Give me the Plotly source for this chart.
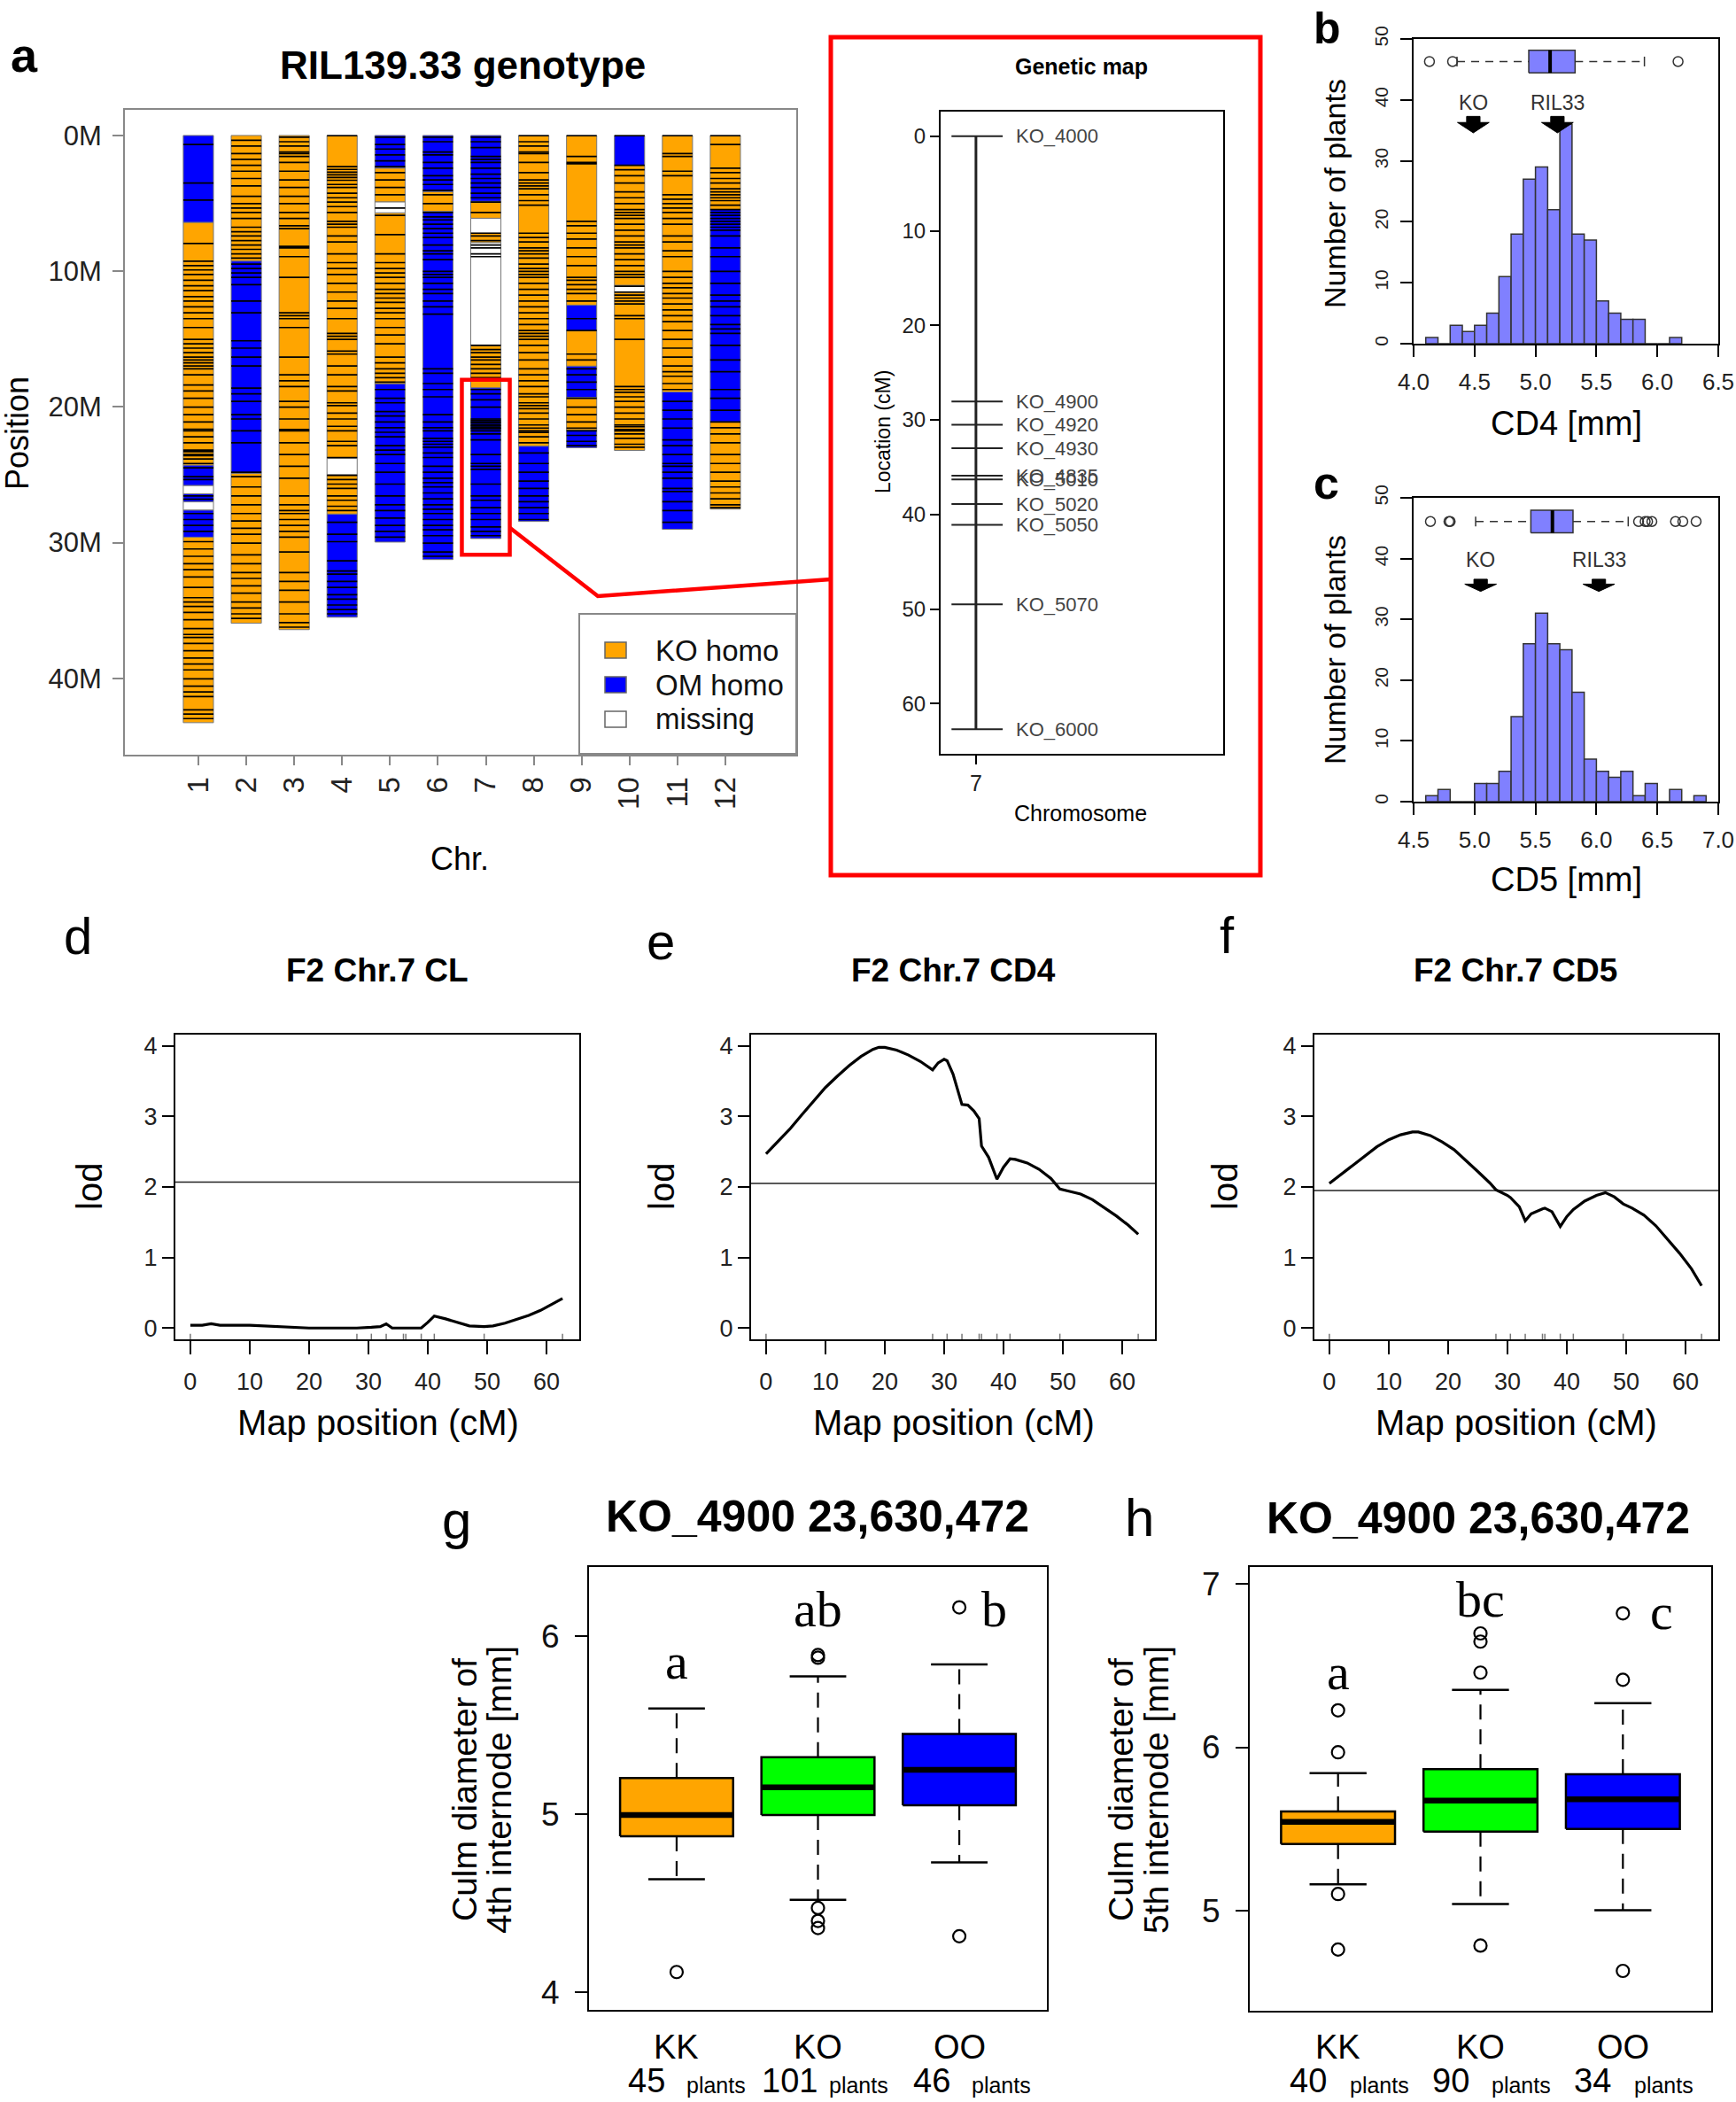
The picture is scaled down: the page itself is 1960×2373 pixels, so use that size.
import plotly.graph_objects as go

W, H = 1960, 2373
SANS = "Liberation Sans"
SERIF = "Liberation Serif"

# ============================ DATA ============================
# ---- Panel a : RIL139.33 genotype (positions in Mb) ----
chrom_numbers = [1, 2, 3, 4, 5, 6, 7, 8, 9, 10, 11, 12]
chrom_lengths = [43.27, 35.94, 36.41, 35.50, 29.96, 31.25, 29.70, 28.44, 23.01, 23.21, 29.02, 27.53]
position_ticks = [0, 10, 20, 30, 40]
position_labels = ["0M", "10M", "20M", "30M", "40M"]

chr1_breaks = [0, 6.4, 24.3, 25.8, 26.4, 27.0, 27.6, 29.6, 43.27]
chr1_geno = ["OM", "KO", "OM", "NA", "OM", "NA", "OM", "KO"]
chr2_breaks = [0, 9.26, 24.9, 35.94]
chr2_geno = ["KO", "OM", "KO"]
chr3_breaks = [0, 36.41]
chr3_geno = ["KO"]
chr4_breaks = [0, 23.8, 25.0, 27.9, 35.5]
chr4_geno = ["KO", "NA", "KO", "OM"]
chr5_breaks = [0, 2.4, 4.9, 5.7, 18.3, 29.96]
chr5_geno = ["OM", "KO", "NA", "KO", "OM"]
chr6_breaks = [0, 4.15, 5.6, 31.25]
chr6_geno = ["OM", "KO", "OM"]
chr7_breaks = [0, 4.85, 6.1, 7.2, 7.9, 15.5, 18.6, 29.7]
chr7_geno = ["OM", "KO", "NA", "KO", "NA", "KO", "OM"]
chr8_breaks = [0, 22.9, 28.44]
chr8_geno = ["KO", "OM"]
chr9_breaks = [0, 12.5, 14.4, 17.0, 19.3, 21.7, 23.01]
chr9_geno = ["KO", "OM", "KO", "OM", "KO", "OM"]
chr10_breaks = [0, 2.2, 11.05, 11.55, 23.21]
chr10_geno = ["OM", "KO", "NA", "KO"]
chr11_breaks = [0, 18.9, 29.02]
chr11_geno = ["KO", "OM"]
chr12_breaks = [0, 5.45, 21.1, 27.53]
chr12_geno = ["KO", "OM", "KO"]

chr1_markers = [0.67, 3.5, 4.76, 7.96, 9.26, 9.59, 9.91, 10.24, 10.67, 11.07, 11.43, 11.87, 12.2, 12.63, 13.07,
                13.5, 14.15, 15.02, 15.35, 15.67, 16.0, 16.33, 16.54, 16.76, 16.98, 17.2, 17.63, 18.39, 18.83,
                19.37, 20.02, 20.57, 21.11, 21.65, 21.77, 22.21, 22.64, 23.19, 23.3, 23.51, 23.6, 23.84, 24.17,
                24.49, 25.14, 25.36, 26.56, 26.8, 27.86, 28.3, 28.73, 29.17, 29.93, 30.47, 31.01, 31.56, 31.99,
                32.54, 33.3, 34.06, 34.38, 34.71, 35.14, 35.69, 36.34, 36.77, 36.99, 37.43, 37.97, 38.51, 38.95,
                39.38, 40.04, 40.58, 41.01, 41.34, 42.32, 42.64, 42.97]
chr2_markers = [0.35, 0.78, 1.33, 1.76, 2.2, 2.63, 3.17, 3.72, 4.48, 5.02, 5.35, 5.67, 6.11, 6.76, 7.09, 7.41,
                7.74, 8.07, 8.39, 8.72, 9.04, 9.48, 9.8, 10.13, 10.46, 11.0, 12.2, 13.07, 15.13, 15.67, 16.33,
                16.98, 18.61, 19.04, 19.59, 20.57, 20.89, 21.77, 22.64, 24.82, 25.14, 25.9, 26.56, 27.21, 27.86,
                28.4, 28.95, 29.38, 30.04, 30.9, 31.56, 32.21, 32.64, 33.19, 33.73, 34.38, 34.82, 35.25, 35.58]
chr3_markers = [0.13, 0.46, 0.78, 1.22, 1.33, 1.54, 1.98, 2.63, 3.28, 3.83, 4.48, 5.02, 5.67, 6.11, 6.65, 6.87,
                8.17, 8.28, 8.93, 10.46, 13.07, 13.28, 13.5, 14.15, 16.33, 17.63, 18.07, 18.5, 19.59, 20.02,
                20.89, 21.67, 21.77, 22.64, 23.51, 24.38, 25.25, 26.56, 27.21, 27.64, 27.86, 28.3, 28.73, 29.17,
                29.6, 30.69, 32.21, 32.86, 33.51, 34.38, 35.25, 35.9, 36.23]
chr4_markers = [0.02, 2.3, 2.5, 2.7, 2.9, 3.1, 3.3, 3.61, 3.83, 4.26, 4.59, 4.91, 5.24, 5.67, 6.33, 6.54, 6.76,
                7.41, 7.85, 8.72, 9.37, 9.8, 10.24, 10.89, 11.54, 12.2, 12.74, 13.5, 14.59, 14.8, 15.02, 15.89,
                16.11, 16.98, 17.63, 18.5, 18.83, 19.7, 19.91, 20.46, 20.89, 21.43, 21.77, 22.54, 22.86, 23.73,
                25.04, 25.36, 25.69, 26.01, 26.56, 26.88, 27.32, 27.64, 28.51, 29.38, 29.93, 31.34, 32.1, 32.32,
                32.86, 33.3, 33.84, 34.17, 34.6, 34.93, 35.25]
chr5_markers = [0.13, 0.67, 1.0, 1.43, 1.87, 2.3, 2.74, 3.28, 3.83, 4.37, 5.35, 5.89, 7.3, 8.72, 9.37, 9.8,
                10.13, 10.46, 10.89, 11.33, 11.65, 11.98, 12.3, 12.74, 13.07, 13.5, 14.15, 14.7, 15.35, 16.33,
                16.76, 17.2, 17.52, 17.85, 18.17, 18.72, 19.37, 19.7, 20.35, 20.67, 21.11, 21.54, 21.87, 22.21,
                22.86, 23.19, 23.51, 24.17, 24.82, 25.69, 26.56, 27.21, 27.64, 28.19, 28.73, 29.17, 29.6]
chr6_markers = [0.13, 0.46, 1.22, 1.43, 1.98, 2.41, 2.96, 3.28, 3.61, 4.04, 4.37, 5.02, 5.67, 6.0, 6.22, 6.54,
                6.87, 7.2, 7.52, 8.07, 8.5, 8.72, 9.15, 10.02, 10.24, 10.46, 10.89, 11.33, 11.65, 12.2, 12.63,
                13.17, 17.2, 17.52, 18.28, 18.72, 19.26, 20.57, 21.11, 21.54, 21.77, 22.32, 22.54, 22.75, 22.97,
                23.4, 23.73, 24.38, 24.82, 25.25, 25.58, 25.9, 26.34, 26.77, 27.21, 27.54, 27.86, 28.3, 28.73,
                29.06, 29.49, 30.04, 30.69, 31.01]
chr7_markers = [0.13, 0.46, 0.89, 1.54, 1.76, 1.98, 2.41, 2.85, 3.17, 3.5, 3.83, 4.26, 4.59, 4.91, 5.67, 7.2,
                7.41, 7.74, 8.07, 8.28, 8.72, 8.93, 15.46, 15.78, 16.0, 16.33, 16.54, 16.87, 17.2, 17.52, 17.85,
                18.72, 19.04, 19.48, 20.02, 20.89, 21.0, 21.11, 21.2, 21.33, 21.4, 21.54, 21.6, 21.76, 21.99,
                22.43, 23.51, 24.17, 24.38, 24.6, 25.69, 26.56, 26.88, 27.43, 27.86, 28.3, 28.84, 29.17, 29.49]
chr8_markers = [0.02, 0.46, 0.78, 1.22, 1.33, 1.98, 2.74, 3.28, 3.5, 3.72, 3.93, 4.37, 4.8, 5.13, 7.2, 7.52,
                7.85, 8.28, 8.5, 8.72, 9.04, 9.48, 9.8, 10.02, 10.24, 10.46, 10.89, 11.33, 11.76, 12.2, 12.63,
                13.07, 13.5, 13.93, 14.37, 14.59, 14.8, 15.02, 15.46, 16.0, 16.54, 17.2, 17.63, 18.07, 18.5,
                19.04, 19.26, 19.7, 19.91, 20.13, 20.46, 20.89, 21.33, 21.56, 21.76, 21.88, 22.21, 22.64, 23.4,
                24.17, 24.82, 25.47, 26.01, 26.56, 26.99, 27.43, 27.86, 28.3]
chr9_markers = [0.02, 1.54, 1.98, 2.09, 6.33, 6.65, 7.2, 7.63, 8.28, 8.93, 9.59, 10.46, 10.67, 11.0, 11.33,
                11.65, 12.2, 13.5, 14.37, 16.11, 16.54, 17.2, 17.63, 18.17, 18.72, 19.37, 20.02, 20.57, 21.11,
                21.56, 21.76, 22.1, 22.54, 22.86]
chr10_markers = [0.02, 2.2, 2.52, 2.96, 3.5, 4.15, 4.59, 5.02, 5.46, 5.67, 5.89, 6.11, 6.54, 6.98, 7.41, 7.85,
                 8.07, 8.28, 8.72, 9.15, 9.59, 10.02, 10.24, 10.46, 11.11, 11.54, 11.76, 11.98, 12.2, 12.41,
                 13.28, 13.5, 15.02, 18.5, 18.72, 18.93, 19.26, 19.59, 20.02, 20.46, 20.89, 21.33, 21.45, 21.67,
                 21.76, 21.99, 22.32, 22.75, 22.97]
chr11_markers = [0.02, 1.33, 1.54, 2.63, 2.96, 4.37, 4.7, 5.02, 5.35, 5.67, 6.11, 6.54, 7.41, 7.85, 8.5, 8.93,
                 10.02, 10.46, 10.89, 11.22, 11.65, 11.98, 12.41, 12.85, 13.28, 13.72, 14.37, 15.02, 15.67,
                 16.33, 16.98, 17.41, 17.74, 18.28, 18.72, 19.59, 20.24, 20.89, 21.56, 22.43, 22.86, 23.51,
                 24.17, 24.38, 24.82, 25.25, 26.01, 26.23, 26.99, 27.64, 28.51]
chr12_markers = [0.02, 0.67, 2.41, 2.74, 3.17, 3.5, 3.93, 4.15, 4.37, 4.59, 4.8, 5.13, 5.46, 5.67, 5.89, 6.11,
                 6.33, 6.54, 6.76, 6.98, 7.41, 8.28, 8.93, 10.02, 10.89, 11.76, 12.2, 12.63, 13.28, 13.93, 14.26,
                 14.59, 15.46, 16.54, 17.41, 18.72, 19.37, 20.24, 21.11, 21.54, 21.99, 22.64, 23.51, 24.17,
                 24.82, 25.47, 25.9, 26.34, 26.77, 27.21, 27.43]

highlight_chr = 7
highlight_from_mb = 18.0
highlight_to_mb = 30.9

# ---- Genetic map of chr 7 (cM) ----
gm_markers = ["KO_4000", "KO_4900", "KO_4920", "KO_4930", "KO_4835", "KO_5010", "KO_5020", "KO_5050",
              "KO_5070", "KO_6000"]
gm_pos = [0, 28.06, 30.5, 33.0, 35.9, 36.3, 38.9, 41.1, 49.5, 62.7]

# ---- Panel b : CD4 histogram ----
cd4_bin_left = [4.1, 4.2, 4.3, 4.4, 4.5, 4.6, 4.7, 4.8, 4.9, 5.0, 5.1, 5.2, 5.3, 5.4, 5.5, 5.6, 5.7, 5.8, 5.9,
                6.0, 6.1]
cd4_counts = [1, 0, 3, 2, 3, 5, 11, 18, 27, 29, 22, 36, 18, 17, 7, 5, 4, 4, 0, 0, 1]
cd4_box = [4.356, 4.945, 5.12, 5.325, 5.894]      # lower whisker, q1, median, q3, upper whisker
cd4_outliers = [4.13, 4.32, 6.17]
cd4_parents = ["KO", "RIL33"]
cd4_parent_values = [4.49, 5.18]

# ---- Panel c : CD5 histogram ----
cd5_bin_left = [4.6, 4.7, 4.8, 4.9, 5.0, 5.1, 5.2, 5.3, 5.4, 5.5, 5.6, 5.7, 5.8, 5.9, 6.0, 6.1, 6.2, 6.3, 6.4,
                6.5, 6.6, 6.7, 6.8]
cd5_counts = [1, 2, 0, 0, 3, 3, 5, 14, 26, 31, 26, 25, 18, 7, 5, 4, 5, 1, 3, 0, 2, 0, 1]
cd5_box = [5.009, 5.462, 5.639, 5.808, 6.261]
cd5_outliers = [4.638, 4.79, 4.80, 6.346, 6.40, 6.42, 6.455, 6.649, 6.709, 6.818]
cd5_parents = ["KO", "RIL33"]
cd5_parent_values = [5.05, 6.02]

# ---- Panels d, e, f : LOD profiles ----
cl_pos = [0, 2, 3.5, 5, 10, 15, 20, 25, 28.06, 30.5, 32, 33.0, 34, 35.9, 38.9, 40, 41.1, 43, 45, 47, 49.5, 51,
          53, 55, 57, 59, 61, 62.7]
cl_lod = [0.04, 0.04, 0.06, 0.04, 0.04, 0.02, 0.0, 0.0, 0.0, 0.01, 0.02, 0.06, 0.0, 0.0, 0.0, 0.08, 0.17, 0.13,
          0.08, 0.03, 0.02, 0.03, 0.07, 0.12, 0.18, 0.25, 0.34, 0.42]
cl_threshold = 2.07

cd4_pos = [0, 2, 4, 6, 8, 10, 12, 14, 16, 18, 19, 20, 22, 24, 26, 28.06, 29, 30, 30.5, 31.5, 33.0, 34.0, 35,
           35.9, 36.3, 37.5, 38.9, 40, 41.1, 42, 44, 46, 48, 49.5, 51, 53, 55, 57, 59, 61, 62.7]
cd4_lod = [2.47, 2.64, 2.82, 3.02, 3.22, 3.41, 3.57, 3.72, 3.85, 3.95, 3.98, 3.98, 3.94, 3.87, 3.78, 3.66, 3.76,
           3.81, 3.79, 3.6, 3.17, 3.16, 3.08, 2.97, 2.58, 2.42, 2.11, 2.28, 2.40, 2.39, 2.34, 2.25, 2.12, 1.97,
           1.94, 1.90, 1.82, 1.71, 1.59, 1.46, 1.33]
cd4_threshold = 2.05

cd5_pos = [0, 2, 4, 6, 8, 10, 12, 14, 15, 17, 19, 21, 23, 25, 27, 28.06, 30, 30.5, 32, 33.0, 34, 35, 35.9, 36.3,
           37.5, 38.9, 40, 41.1, 43, 45, 46.5, 48, 49.5, 51, 53, 55, 57, 59, 61, 62.7]
cd5_lod = [2.05, 2.18, 2.31, 2.45, 2.57, 2.67, 2.74, 2.78, 2.78, 2.73, 2.64, 2.53, 2.38, 2.22, 2.06, 1.96, 1.88,
           1.85, 1.72, 1.52, 1.62, 1.66, 1.69, 1.70, 1.65, 1.44, 1.58, 1.68, 1.80, 1.88, 1.92, 1.86, 1.76, 1.70,
           1.60, 1.45, 1.26, 1.06, 0.84, 0.60]
cd5_threshold = 1.95

# ---- Panels g, h : boxplots by genotype at KO_4900 ----
genotype_groups = ["KK", "KO", "OO"]
group_colors = ["#FFA500", "#00FF00", "#0000FF"]

g_n = [45, 101, 46]
g_low = [4.634, 4.519, 4.729]
g_q1 = [4.876, 4.995, 5.05]
g_med = [4.995, 5.151, 5.249]
g_q3 = [5.203, 5.321, 5.451]
g_high = [5.594, 5.775, 5.842]
g_out_kk = [4.113]
g_out_ko = [4.473, 4.40, 4.36, 5.88, 5.895]
g_out_oo = [6.163, 4.314]
g_letters = ["a", "ab", "b"]
g_letter_y = [5.859, 6.152, 6.152]

h_n = [40, 90, 34]
h_low = [5.16, 5.04, 5.002]
h_q1 = [5.407, 5.483, 5.5]
h_med = [5.543, 5.673, 5.681]
h_q3 = [5.607, 5.866, 5.834]
h_high = [5.841, 6.351, 6.27]
h_out_kk = [6.226, 5.969, 5.101, 4.761]
h_out_ko = [6.457, 6.647, 6.697, 4.785]
h_out_oo = [6.413, 6.82, 4.63]
h_letters = ["a", "bc", "c"]
h_letter_y = [6.462, 6.906, 6.832]

# ============================ FIGURE ============================
fig = go.Figure()
annotations = []
shapes = []


def px(x):
    return x / W


def py(y):
    return 1 - y / H


def dom(x0, x1, y0, y1):
    return [px(x0), px(x1)], [py(y1), py(y0)]


def ax_style(**kw):
    d = dict(showgrid=False, zeroline=False, showline=True, mirror=True, linecolor="black", linewidth=2,
             ticks="outside", tickcolor="black", tickwidth=2, ticklen=12, automargin=False,
             tickfont=dict(family=SANS, size=26, color="black"))
    d.update(kw)
    return d


def text(t, x, y, size, bold=False, angle=0, family=SANS, color="black", xanchor="center",
         yanchor="middle", xref="paper", yref="paper"):
    if xref == "paper":
        x = px(x)
    if yref == "paper":
        y = py(y)
    if bold:
        t = "<b>" + t + "</b>"
    annotations.append(dict(text=t, x=x, y=y, xref=xref, yref=yref, showarrow=False, textangle=angle,
                            font=dict(family=family, size=size, color=color), xanchor=xanchor,
                            yanchor=yanchor))


# ---------- Panel a ----------
A_X0, A_X1, A_Y0, A_Y1 = 141, 899, 124, 852
A_XR = [-0.534, 13.48]
A_YR = [45.63, -1.89]
geno_colors = {"KO": "#FFA500", "OM": "#0000FF", "NA": "#FFFFFF"}
all_breaks = [chr1_breaks, chr2_breaks, chr3_breaks, chr4_breaks, chr5_breaks, chr6_breaks, chr7_breaks,
              chr8_breaks, chr9_breaks, chr10_breaks, chr11_breaks, chr12_breaks]
all_geno = [chr1_geno, chr2_geno, chr3_geno, chr4_geno, chr5_geno, chr6_geno, chr7_geno, chr8_geno,
            chr9_geno, chr10_geno, chr11_geno, chr12_geno]
all_markers = [chr1_markers, chr2_markers, chr3_markers, chr4_markers, chr5_markers, chr6_markers,
               chr7_markers, chr8_markers, chr9_markers, chr10_markers, chr11_markers, chr12_markers]
BAR_W = 0.63
for g in ["KO", "OM", "NA"]:
    xs, bases, lens = [], [], []
    for c, br, gg in zip(chrom_numbers, all_breaks, all_geno):
        for i, code in enumerate(gg):
            if code == g:
                xs.append(c)
                bases.append(br[i])
                lens.append(br[i + 1] - br[i])
    fig.add_trace(go.Bar(x=xs, y=lens, base=bases, width=BAR_W, xaxis="x", yaxis="y",
                         marker=dict(color=geno_colors[g], line=dict(color="#777777", width=1)),
                         showlegend=False, hoverinfo="skip"))
mx, my = [], []
for c, mk in zip(chrom_numbers, all_markers):
    for p in mk:
        mx += [c - BAR_W / 2, c + BAR_W / 2, None]
        my += [p, p, None]
fig.add_trace(go.Scatter(x=mx, y=my, mode="lines", line=dict(color="black", width=1.7), xaxis="x",
                         yaxis="y", showlegend=False, hoverinfo="skip"))

shapes.append(dict(type="rect", xref="x", yref="y", x0=highlight_chr - 0.5, x1=highlight_chr + 0.5,
                   y0=highlight_from_mb, y1=highlight_to_mb, line=dict(color="#FF0000", width=4.5)))


def a_to_px(xv, yv):
    xp = A_X0 + (xv - A_XR[0]) / (A_XR[1] - A_XR[0]) * (A_X1 - A_X0)
    yp = A_Y0 + (yv - A_YR[1]) / (A_YR[0] - A_YR[1]) * (A_Y1 - A_Y0)
    return xp, yp


sx, sy = a_to_px(highlight_chr + 0.5, 28.9)
shapes.append(dict(type="path", xref="paper", yref="paper",
                   path=f"M {px(sx)} {py(sy)} L {px(675)} {py(673)} L {px(938)} {py(654)}",
                   line=dict(color="#FF0000", width=4.5)))

# legend box
shapes.append(dict(type="rect", xref="paper", yref="paper", x0=px(654), x1=px(899), y0=py(851), y1=py(693),
                   line=dict(color="#888888", width=2), fillcolor="white", layer="above"))
leg_labels = ["KO homo", "OM homo", "missing"]
leg_colors = ["#FFA500", "#0000FF", "#FFFFFF"]
for i, (lab, col) in enumerate(zip(leg_labels, leg_colors)):
    yc = 734 + 39 * i
    shapes.append(dict(type="rect", xref="paper", yref="paper", x0=px(683), x1=px(707), y0=py(yc + 9),
                       y1=py(yc - 9), line=dict(color="#666666", width=1.5), fillcolor=col, layer="above"))
    text(lab, 738, yc, 33, xanchor="left", color="#111")

text("a", 27, 62, 54, bold=True)
text("RIL139.33 genotype", 522, 73, 44, bold=True)
text("Position", 20, 489, 36, angle=-90)
text("Chr.", 519, 969, 36)

# ---------- Genetic map ----------
shapes.append(dict(type="rect", xref="paper", yref="paper", x0=px(938), x1=px(1423), y0=py(988), y1=py(42),
                   line=dict(color="#FF0000", width=5)))
fig.add_trace(go.Scatter(x=[7, 7], y=[gm_pos[0], gm_pos[-1]], mode="lines", line=dict(color="#222", width=3),
                         xaxis="x2", yaxis="y2", showlegend=False, hoverinfo="skip"))
gx, gy = [], []
for p in gm_pos:
    gx += [6.654, 7.379, None]
    gy += [p, p, None]
fig.add_trace(go.Scatter(x=gx, y=gy, mode="lines", line=dict(color="#222", width=2), xaxis="x2", yaxis="y2",
                         showlegend=False, hoverinfo="skip"))
for name, p in zip(gm_markers, gm_pos):
    text(name, 7.54, p, 22, xanchor="left", color="#444", xref="x2", yref="y2")
text("Genetic map", 1221, 75, 25, bold=True)
text("Location (cM)", 997, 488, 23, angle=-90)
text("Chromosome", 1220, 918, 25)


# ---------- Panels b, c ----------
def hist_panel(xa, ya, bins, counts, box, outs, parents, pvals, box_y, arrow_top, arrow_neck, arrow_tip,
               label_y):
    fig.add_trace(go.Bar(x=[b + 0.05 for b in bins], y=counts, width=0.1, xaxis=xa, yaxis=ya,
                         marker=dict(color="#8080FF", line=dict(color="#333333", width=1.5)),
                         showlegend=False, hoverinfo="skip"))
    lo, q1, md, q3, hi = box
    hh = 1.85
    fig.add_trace(go.Scatter(x=[q1, q3, q3, q1, q1], y=[box_y - hh, box_y - hh, box_y + hh, box_y + hh,
                                                        box_y - hh],
                             mode="lines", fill="toself", fillcolor="#8080FF",
                             line=dict(color="#333", width=1.5), xaxis=xa, yaxis=ya, showlegend=False,
                             hoverinfo="skip"))
    fig.add_trace(go.Scatter(x=[md, md], y=[box_y - hh, box_y + hh], mode="lines",
                             line=dict(color="black", width=4), xaxis=xa, yaxis=ya, showlegend=False,
                             hoverinfo="skip"))
    fig.add_trace(go.Scatter(x=[lo, q1, None, q3, hi], y=[box_y] * 5, mode="lines",
                             line=dict(color="#333", width=1.5, dash="9px,7px"), xaxis=xa, yaxis=ya,
                             showlegend=False, hoverinfo="skip"))
    fig.add_trace(go.Scatter(x=[lo, lo, None, hi, hi], y=[box_y - 0.8, box_y + 0.8, None, box_y - 0.8,
                                                          box_y + 0.8],
                             mode="lines", line=dict(color="#333", width=1.5), xaxis=xa, yaxis=ya,
                             showlegend=False, hoverinfo="skip"))
    fig.add_trace(go.Scatter(x=outs, y=[box_y] * len(outs), mode="markers",
                             marker=dict(symbol="circle-open", size=11, color="#333", line=dict(width=1.5)),
                             xaxis=xa, yaxis=ya, showlegend=False, hoverinfo="skip"))
    shw, hhw = 0.055, 0.13
    for name, v in zip(parents, pvals):
        fig.add_trace(go.Scatter(
            x=[v - shw, v + shw, v + shw, v + hhw, v, v - hhw, v - shw, v - shw],
            y=[arrow_top, arrow_top, arrow_neck, arrow_neck, arrow_tip, arrow_neck, arrow_neck, arrow_top],
            mode="lines", fill="toself", fillcolor="black", line=dict(color="black", width=1),
            xaxis=xa, yaxis=ya, showlegend=False, hoverinfo="skip"))
        text(name, v, label_y, 23, color="#333", xref=xa, yref=ya)


hist_panel("x3", "y3", cd4_bin_left, cd4_counts, cd4_box, cd4_outliers, cd4_parents, cd4_parent_values,
           46.3, 37.3, 36.3, 34.6, 39.6)
hist_panel("x4", "y4", cd5_bin_left, cd5_counts, cd5_box, cd5_outliers, cd5_parents, cd5_parent_values,
           46.1, 36.6, 35.8, 34.6, 39.8)
text("b", 1498, 2, 50, bold=True, yanchor="top")
text("c", 1497, 545, 52, bold=True)
text("Number of plants", 1507, 219, 34, angle=-90)
text("Number of plants", 1507, 734, 34, angle=-90)
text("CD4 [mm]", 1768, 478, 38)
text("CD5 [mm]", 1768, 993, 38)

# ---------- Panels d, e, f ----------
lod_sets = [("x5", "y5", cl_pos, cl_lod, cl_threshold), ("x6", "y6", cd4_pos, cd4_lod, cd4_threshold),
            ("x7", "y7", cd5_pos, cd5_lod, cd5_threshold)]
for xa, ya, pos, lod, thr in lod_sets:
    fig.add_trace(go.Scatter(x=[-2.52, 65.52], y=[thr, thr], mode="lines", line=dict(color="#222", width=1.6),
                             xaxis=xa, yaxis=ya, showlegend=False, hoverinfo="skip"))
    fig.add_trace(go.Scatter(x=pos, y=lod, mode="lines", line=dict(color="black", width=3.2),
                             xaxis=xa, yaxis=ya, showlegend=False, hoverinfo="skip"))
    rx, ry = [], []
    for p in gm_pos:
        rx += [p, p, None]
        ry += [-0.16, -0.08, None]
    fig.add_trace(go.Scatter(x=rx, y=ry, mode="lines", line=dict(color="#777", width=1.5), xaxis=xa,
                             yaxis=ya, showlegend=False, hoverinfo="skip"))

for lab, xl, yl in [("d", 88, 1056), ("e", 746, 1062), ("f", 1385, 1055)]:
    text(lab, xl, yl, 58)
for t, xc in [("F2 Chr.7 CL", 426), ("F2 Chr.7 CD4", 1076), ("F2 Chr.7 CD5", 1711)]:
    text(t, xc, 1095, 37, bold=True)
for xc in [101, 747, 1383]:
    text("lod", xc, 1340, 40, angle=-90)
for xc in [427, 1077, 1712]:
    text("Map position (cM)", xc, 1606, 40)


# ---------- Panels g, h ----------
def box_panel(xa, ya, low, q1, med, q3, high, outs, letters, letter_y, letter_x, counts, count_x, plants_x):
    for i, (grp, col) in enumerate(zip(genotype_groups, group_colors)):
        c = i + 1
        fig.add_trace(go.Scatter(x=[c, c, None, c, c], y=[q3[i], high[i], None, q1[i], low[i]], mode="lines",
                                 line=dict(color="black", width=2.2, dash="17px,11px"), xaxis=xa, yaxis=ya,
                                 showlegend=False, hoverinfo="skip"))
        fig.add_trace(go.Scatter(x=[c - 0.2, c + 0.2, None, c - 0.2, c + 0.2],
                                 y=[high[i], high[i], None, low[i], low[i]], mode="lines",
                                 line=dict(color="black", width=2.5), xaxis=xa, yaxis=ya, showlegend=False,
                                 hoverinfo="skip"))
        fig.add_trace(go.Scatter(x=[c - 0.4, c + 0.4, c + 0.4, c - 0.4, c - 0.4],
                                 y=[q1[i], q1[i], q3[i], q3[i], q1[i]], mode="lines", fill="toself",
                                 fillcolor=col, line=dict(color="black", width=2.5), xaxis=xa, yaxis=ya,
                                 showlegend=False, hoverinfo="skip"))
        fig.add_trace(go.Scatter(x=[c - 0.4, c + 0.4], y=[med[i], med[i]], mode="lines",
                                 line=dict(color="black", width=6.5), xaxis=xa, yaxis=ya, showlegend=False,
                                 hoverinfo="skip"))
        fig.add_trace(go.Scatter(x=[c] * len(outs[i]), y=outs[i], mode="markers",
                                 marker=dict(symbol="circle-open", size=14, color="black", line=dict(width=2.2)),
                                 xaxis=xa, yaxis=ya, showlegend=False, hoverinfo="skip"))
        text(letters[i], letter_x[i], letter_y[i], 58, family=SERIF, xref=xa, yref=ya)
        text(grp, c, 2311, 38, xref=xa)
        text(str(counts[i]), count_x[i], 2349, 38)
        text("plants", plants_x[i], 2354, 25)


box_panel("x8", "y8", g_low, g_q1, g_med, g_q3, g_high, [g_out_kk, g_out_ko, g_out_oo], g_letters,
          g_letter_y, [1, 2, 3.244], g_n, [730, 891, 1052], [808, 969, 1130])
box_panel("x9", "y9", h_low, h_q1, h_med, h_q3, h_high, [h_out_kk, h_out_ko, h_out_oo], h_letters,
          h_letter_y, [1, 2, 3.27], h_n, [1477, 1638, 1798], [1557, 1717, 1878])
text("g", 515, 1716, 60)
text("h", 1286, 1713, 60)
text("KO_4900 23,630,472", 923, 1712, 50, bold=True)
text("KO_4900 23,630,472", 1669, 1714, 50, bold=True)
text("Culm diameter of", 524, 2021, 39, angle=-90)
text("4th internode [mm]", 563, 2021, 39, angle=-90)
text("Culm diameter of", 1265, 2021, 39, angle=-90)
text("5th internode [mm]", 1305, 2021, 39, angle=-90)

# ---------- Axes ----------
lay = {}
xd, yd = dom(A_X0, A_X1, A_Y0, A_Y1)
lay["xaxis"] = ax_style(domain=xd, range=A_XR, anchor="y", tickvals=chrom_numbers,
                        ticktext=[str(c) for c in chrom_numbers], tickangle=-90, linecolor="#888",
                        tickcolor="#888", ticklen=10, tickfont=dict(family=SANS, size=33, color="#222"))
lay["yaxis"] = ax_style(domain=yd, range=A_YR, anchor="x", tickvals=position_ticks, ticktext=position_labels,
                        linecolor="#888", tickcolor="#888", ticklen=12, ticklabelstandoff=6,
                        tickfont=dict(family=SANS, size=31, color="#222"))

xd, yd = dom(1062, 1381, 126, 851)
lay["xaxis2"] = ax_style(domain=xd, range=[6.5, 10.5], anchor="y2", tickvals=[7], ticktext=["7"], ticklen=10,
                         tickfont=dict(family=SANS, size=25, color="#222"))
lay["yaxis2"] = ax_style(domain=yd, range=[65.3, -2.6], anchor="x2", tickvals=[0, 10, 20, 30, 40, 50, 60],
                         ticklen=10, tickfont=dict(family=SANS, size=24, color="#222"))

for i, (y0, y1) in enumerate([(44, 388), (562, 905)]):
    n = 3 + i
    xd, yd = dom(1596, 1940, y0, y1)
    lay[f"xaxis{n}"] = ax_style(domain=xd, range=[4.0, 6.5] if n == 3 else [4.5, 7.0], anchor=f"y{n}",
                                dtick=0.5, tickformat=".1f", ticklen=13, ticklabelstandoff=6,
                                tickfont=dict(family=SANS, size=26, color="#222"))
    lay[f"yaxis{n}"] = ax_style(domain=yd, range=[0, 50], anchor=f"x{n}", dtick=10, tickangle=-90,
                                ticklen=13, ticklabelstandoff=6, tickfont=dict(family=SANS, size=21, color="#222"))

for i, (x0, x1) in enumerate([(198, 654), (848, 1304), (1484, 1940)]):
    n = 5 + i
    xd, yd = dom(x0, x1, 1168, 1512)
    lay[f"xaxis{n}"] = ax_style(domain=xd, range=[-2.52, 65.52], anchor=f"y{n}", tickvals=[0, 10, 20, 30, 40,
                                                                                           50, 60],
                                ticklen=15, ticklabelstandoff=8, tickfont=dict(family=SANS, size=27, color="#222"))
    lay[f"yaxis{n}"] = ax_style(domain=yd, range=[-0.16, 4.16], anchor=f"x{n}", tickvals=[0, 1, 2, 3, 4],
                                ticklen=13, tickfont=dict(family=SANS, size=27, color="#222"))

xd, yd = dom(665, 1182, 1769, 2269)
lay["xaxis8"] = ax_style(domain=xd, range=[0.38, 3.62], anchor="y8", showticklabels=False, ticks="")
lay["yaxis8"] = ax_style(domain=yd, range=[3.90, 6.39], anchor="x8", tickvals=[4, 5, 6], ticklen=14,
                         ticklabelstandoff=10, tickfont=dict(family=SANS, size=37, color="#111"))
xd, yd = dom(1411, 1932, 1769, 2270)
lay["xaxis9"] = ax_style(domain=xd, range=[0.38, 3.62], anchor="y9", showticklabels=False, ticks="")
lay["yaxis9"] = ax_style(domain=yd, range=[4.386, 7.104], anchor="x9", tickvals=[5, 6, 7], ticklen=14,
                         ticklabelstandoff=10, tickfont=dict(family=SANS, size=37, color="#111"))

fig.update_layout(width=W, height=H, autosize=False, margin=dict(l=0, r=0, t=0, b=0, autoexpand=False),
                  paper_bgcolor="white", plot_bgcolor="white", barmode="overlay", showlegend=False,
                  annotations=annotations, shapes=shapes, **lay)

fig.write_html("out.html", config={"displayModeBar": False, "staticPlot": True},
               post_script="document.body.style.margin='0px';document.body.style.padding='0px';")
